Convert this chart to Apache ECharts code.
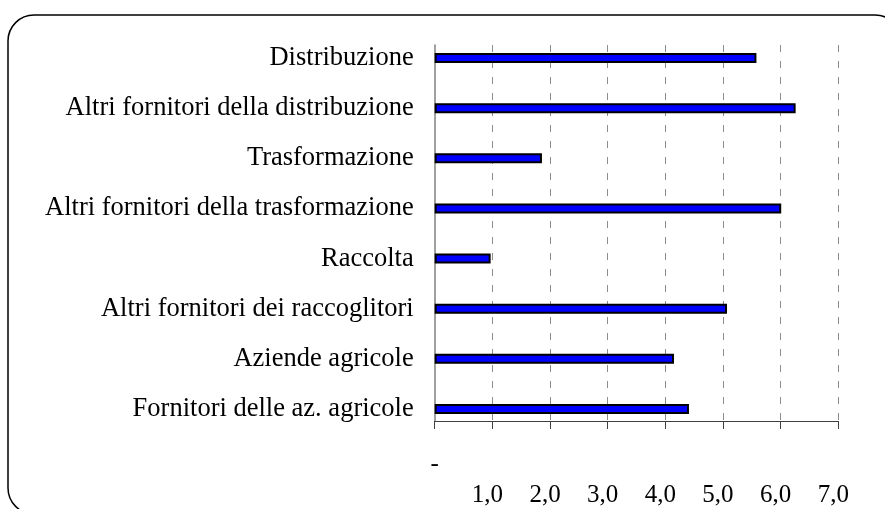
<!DOCTYPE html>
<html>
<head>
<meta charset="utf-8">
<script src="https://cdn.jsdelivr.net/npm/echarts@6/dist/echarts.min.js"></script>
<style>
html,body{margin:0;padding:0;background:#fff;}
#chart{width:885px;height:509px;}
</style>
</head>
<body>
<div id="chart"></div>
<script>
const categories = [
  'Distribuzione',
  'Altri fornitori della distribuzione',
  'Trasformazione',
  'Altri fornitori della trasformazione',
  'Raccolta',
  'Altri fornitori dei raccoglitori',
  'Aziende agricole',
  'Fornitori delle az. agricole'
];
const values = [5.58, 6.26, 1.86, 6.01, 0.97, 5.07, 4.15, 4.41];
const tickLabels = ['-', '1,0', '2,0', '3,0', '4,0', '5,0', '6,0', '7,0'];

const FONT = '"Liberation Serif", "Times New Roman", serif';
const chart = echarts.init(document.getElementById('chart'), null, {renderer: 'canvas'});

const option = {
  backgroundColor: '#ffffff',
  animation: false,
  graphic: [{
    type: 'rect',
    shape: {x: 8, y: 15, width: 893, height: 499, r: 26},
    style: {fill: 'none', stroke: '#000', lineWidth: 1.5},
    z: 0
  }],
  grid: [
    {left: 434.7, right: 46.7, top: 45, bottom: 88},
    {left: 434.7, right: 46.7, top: 33, bottom: 75}
  ],
  xAxis: [
    {
      gridIndex: 0, type: 'value', min: 0, max: 7, interval: 1,
      axisLine: {show: true, lineStyle: {color: '#404040', width: 1}},
      axisTick: {show: true, length: 8, lineStyle: {color: '#404040', width: 1}},
      splitLine: {show: true, showMinLine: false, showMaxLine: true,
        lineStyle: {color: '#8c8c8c', type: [7, 9], width: 1}},
      axisLabel: {
        show: true, margin: 31, fontFamily: FONT, fontSize: 25, color: '#000',
        showMinLabel: true, showMaxLabel: true,
        formatter: function (v) {
          const i = Math.round(v);
          if (i === 0) return '{dash|' + tickLabels[0] + '}';
          return '{num|' + tickLabels[i] + '}';
        },
        rich: {
          dash: {fontFamily: FONT, fontSize: 25, color: '#000', lineHeight: 25},
          num: {fontFamily: FONT, fontSize: 25, color: '#000', lineHeight: 25, padding: [61, 10, 0, 0]}
        }
      }
    },
    {
      gridIndex: 1, type: 'value', min: 0, max: 7, show: false
    }
  ],
  yAxis: [
    {
      gridIndex: 0, type: 'value', min: 0, max: 1,
      axisLine: {show: true, lineStyle: {color: '#808080', width: 1.5}},
      axisTick: {show: false}, axisLabel: {show: false}, splitLine: {show: false}
    },
    {
      gridIndex: 1, type: 'category', data: categories, inverse: true,
      axisLine: {show: false}, axisTick: {show: false}, splitLine: {show: false},
      axisLabel: {margin: 21, fontFamily: FONT, fontSize: 26.5, color: '#000'}
    }
  ],
  series: [
    {
      type: 'bar', xAxisIndex: 1, yAxisIndex: 1, data: values,
      barWidth: 10,
      itemStyle: {color: '#0000ff', borderColor: '#000', borderWidth: 2},
      z: 3
    }
  ]
};
chart.setOption(option);
</script>
</body>
</html>
